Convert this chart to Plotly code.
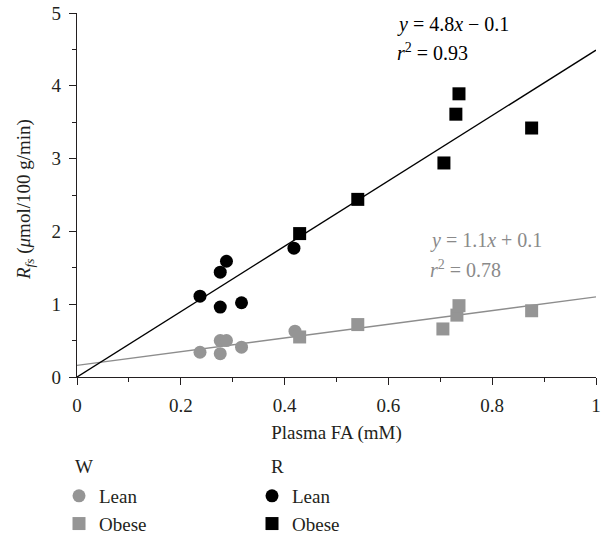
import plotly.graph_objects as go

# ---- data ----
w_lean_x = [0.237, 0.276, 0.288, 0.276, 0.317, 0.420]
w_lean_y = [0.34, 0.50, 0.50, 0.32, 0.41, 0.63]
w_obese_x = [0.429, 0.541, 0.705, 0.732, 0.736, 0.876]
w_obese_y = [0.55, 0.72, 0.66, 0.85, 0.98, 0.91]
r_lean_x = [0.237, 0.276, 0.288, 0.276, 0.317, 0.418]
r_lean_y = [1.11, 1.44, 1.59, 0.96, 1.02, 1.77]
r_obese_x = [0.429, 0.541, 0.707, 0.730, 0.736, 0.876]
r_obese_y = [1.97, 2.44, 2.94, 3.61, 3.89, 3.42]

# drawn regression lines (slope, intercept) as they appear in the figure
r_fit = (4.49, 0.0)
w_fit = (0.94, 0.16)
fit_x = [0.0, 1.0]

x_ticks = [0, 0.2, 0.4, 0.6, 0.8, 1]
x_tick_labels = ["0", "0.2", "0.4", "0.6", "0.8", "1"]
y_ticks = [0, 1, 2, 3, 4, 5]

FONT = "Liberation Serif"
GRAY = "#959595"
GRAY_LINE = "#8d8d8d"
GRAY_TEXT = "#8a8a8a"
BLACK = "#000000"
TXT = "#231f20"

W, H = 606, 535
L, R, T, B = 77, 10, 13, 158
PW, PH = W - L - R, H - T - B


def px_x(p):
    return (p - L) / PW


def px_y(p):
    return (H - B - p) / PH


fig = go.Figure()

fig.add_trace(go.Scatter(x=fit_x, y=[w_fit[0] * v + w_fit[1] for v in fit_x],
                         mode="lines", line=dict(color=GRAY_LINE, width=1.3),
                         showlegend=False, hoverinfo="skip"))
fig.add_trace(go.Scatter(x=fit_x, y=[r_fit[0] * v + r_fit[1] for v in fit_x],
                         mode="lines", line=dict(color=BLACK, width=1.4),
                         showlegend=False, hoverinfo="skip"))

fig.add_trace(go.Scatter(x=w_lean_x, y=w_lean_y, mode="markers", name="Lean",
                         marker=dict(symbol="circle", size=13, color=GRAY),
                         legend="legend"))
fig.add_trace(go.Scatter(x=w_obese_x, y=w_obese_y, mode="markers", name="Obese",
                         marker=dict(symbol="square", size=13, color=GRAY),
                         legend="legend"))
fig.add_trace(go.Scatter(x=r_lean_x, y=r_lean_y, mode="markers", name="Lean",
                         marker=dict(symbol="circle", size=13, color=BLACK),
                         legend="legend2"))
fig.add_trace(go.Scatter(x=r_obese_x, y=r_obese_y, mode="markers", name="Obese",
                         marker=dict(symbol="square", size=13, color=BLACK),
                         legend="legend2"))

ann_font = dict(family=FONT, size=20)
annotations = [
    dict(x=0.612, y=4.84, text="<i>y</i> = 4.8<i>x</i> − 0.1", font=dict(**ann_font, color=BLACK)),
    dict(x=0.612, y=4.47, text="<i>r</i><sup>2</sup> = 0.93", font=dict(**ann_font, color=BLACK)),
    dict(x=0.677, y=1.88, text="<i>y</i> = 1.1<i>x</i> + 0.1", font=dict(**ann_font, color=GRAY_TEXT)),
    dict(x=0.677, y=1.49, text="<i>r</i><sup>2</sup> = 0.78", font=dict(**ann_font, color=GRAY_TEXT)),
]
for a in annotations:
    a.update(xref="x", yref="y", xanchor="left", yanchor="middle", showarrow=False)

for label, xp in (("W", 73), ("R", 269)):
    annotations.append(dict(x=px_x(xp), y=px_y(466), xref="paper", yref="paper",
                            text=label, xanchor="left", yanchor="middle",
                            showarrow=False, font=dict(family=FONT, size=19, color=TXT)))

# y-axis title (rotated)
annotations.append(dict(x=px_x(25), y=px_y(200), xref="paper", yref="paper",
                        text="<i>R</i><sub><i>fs</i></sub> (<i>μ</i>mol/100 g/min)",
                        textangle=-90, xanchor="center", yanchor="middle",
                        showarrow=False, font=dict(family=FONT, size=19, color=TXT)))

axis_common = dict(
    showline=True, linecolor="#231f20", linewidth=1.4,
    ticks="outside", ticklen=7, tickwidth=1.2, tickcolor="#231f20",
    showgrid=False, zeroline=False,
    tickfont=dict(family=FONT, size=19, color=TXT),
    ticklabelstandoff=4,
)

legend_common = dict(xref="container", yref="container", xanchor="left", yanchor="top",
                     font=dict(family=FONT, size=19, color=TXT),
                     bgcolor="rgba(0,0,0,0)", borderwidth=0)

fig.update_layout(
    width=W, height=H,
    margin=dict(l=L, r=R, t=T, b=B, autoexpand=False),
    plot_bgcolor="white", paper_bgcolor="white",
    font=dict(family=FONT, size=19, color=TXT),
    annotations=annotations,
    xaxis=dict(range=[0, 1], tickvals=x_ticks, ticktext=x_tick_labels,
               minor=dict(dtick=0.1, ticks="outside", ticklen=4, tickcolor="#231f20", tickwidth=1.2),
               title=dict(text="Plasma FA (mM)", font=dict(family=FONT, size=19, color=TXT), standoff=10),
               **axis_common),
    yaxis=dict(range=[0, 5], tickvals=y_ticks,
               minor=dict(dtick=0.5, ticks="outside", ticklen=4, tickcolor="#231f20", tickwidth=1.2),
               **axis_common),
    legend=dict(x=59 / W, y=1 - 477 / H, **legend_common),
    legend2=dict(x=252 / W, y=1 - 477 / H, **legend_common),
)

fig.write_html("out.html")
